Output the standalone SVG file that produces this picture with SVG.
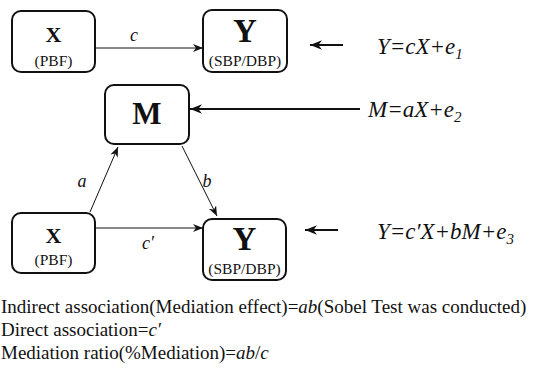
<svg xmlns="http://www.w3.org/2000/svg" width="535" height="369" viewBox="0 0 535 369">
<style>
.box{fill:#fff;stroke:#111;stroke-width:2}
text{font-family:'Liberation Serif','Times New Roman',Times,'DejaVu Serif',serif;fill:#111}
.b{font-weight:bold}
.i{font-style:italic}
.thin{stroke:#111;stroke-width:1;fill:none}
.thick{stroke:#111;stroke-width:2.2;fill:none}
</style>
<defs>
<marker id="ah" viewBox="0 0 10 8" refX="10" refY="4" markerWidth="10" markerHeight="8" markerUnits="userSpaceOnUse" orient="auto">
<path d="M0,0 L10,4 L0,8 L3,4 z" fill="#111"/>
</marker>
<marker id="ahb" viewBox="0 0 10 8" refX="10" refY="4" markerWidth="12" markerHeight="10" markerUnits="userSpaceOnUse" orient="auto">
<path d="M0,0 L10,4 L0,8 L3,4 z" fill="#111"/>
</marker>
</defs>
<rect width="535" height="369" fill="#fff"/>
<g id="connectors">
<line class="thin" x1="95" y1="48" x2="203" y2="48" marker-end="url(#ah)"/>
<line class="thin" x1="95" y1="228" x2="203" y2="228" marker-end="url(#ah)"/>
<line class="thin" x1="90" y1="212" x2="118" y2="147" marker-end="url(#ah)"/>
<line class="thin" x1="182" y1="146" x2="217" y2="216" marker-end="url(#ah)"/>
<line class="thick" x1="343" y1="45" x2="310" y2="45" marker-end="url(#ahb)"/>
<line class="thick" x1="360" y1="109" x2="190" y2="109" marker-end="url(#ahb)"/>
<line class="thick" x1="338" y1="230" x2="305" y2="230" marker-end="url(#ahb)"/>
<text class="i" x="134" y="41" font-size="18" text-anchor="middle">c</text>
<text class="i" x="148" y="249" font-size="18" text-anchor="middle">c′</text>
<text class="i" x="82" y="187" font-size="18" text-anchor="middle">a</text>
<text class="i" x="207" y="187" font-size="18" text-anchor="middle">b</text>
</g>
<g id="node-x-top">
<rect class="box" x="12" y="11" width="83" height="61" rx="9"/>
<text class="b" x="53.5" y="42" font-size="22" text-anchor="middle">X</text>
<text x="53.5" y="66" font-size="15.5" text-anchor="middle">(PBF)</text>
</g>
<g id="node-y-top">
<rect class="box" x="203" y="10" width="84" height="62" rx="9"/>
<text class="b" x="245" y="42" font-size="33" text-anchor="middle">Y</text>
<text x="245" y="66" font-size="15.5" text-anchor="middle">(SBP/DBP)</text>
</g>
<g id="node-m">
<rect class="box" x="105" y="85" width="84" height="59" rx="9"/>
<text class="b" x="147" y="124" font-size="31" text-anchor="middle">M</text>
</g>
<g id="node-x-bottom">
<rect class="box" x="12" y="213" width="83" height="60" rx="9"/>
<text class="b" x="53.5" y="243" font-size="22" text-anchor="middle">X</text>
<text x="53.5" y="265" font-size="15.5" text-anchor="middle">(PBF)</text>
</g>
<g id="node-y-bottom">
<rect class="box" x="203" y="219" width="83" height="61" rx="9"/>
<text class="b" x="244.5" y="250" font-size="33" text-anchor="middle">Y</text>
<text x="244.5" y="274" font-size="15.5" text-anchor="middle">(SBP/DBP)</text>
</g>
<g id="equations">
<text class="i" x="377" y="54" font-size="23">Y=cX+e<tspan font-size="15" dy="5">1</tspan></text>
<text class="i" x="368" y="117" font-size="23">M=aX+e<tspan font-size="15" dy="5">2</tspan></text>
<text class="i" x="377" y="239" font-size="23">Y=c′X+bM+e<tspan font-size="15" dy="5">3</tspan></text>
</g>
<g id="notes">
<text x="1" y="313" font-size="19">Indirect association(Mediation effect)=<tspan class="i">ab</tspan>(Sobel Test was conducted)</text>
<text x="1" y="336" font-size="19">Direct association=<tspan class="i">c′</tspan></text>
<text x="1" y="359" font-size="19">Mediation ratio(%Mediation)=<tspan class="i">ab</tspan>/<tspan class="i">c</tspan></text>
</g>
</svg>
